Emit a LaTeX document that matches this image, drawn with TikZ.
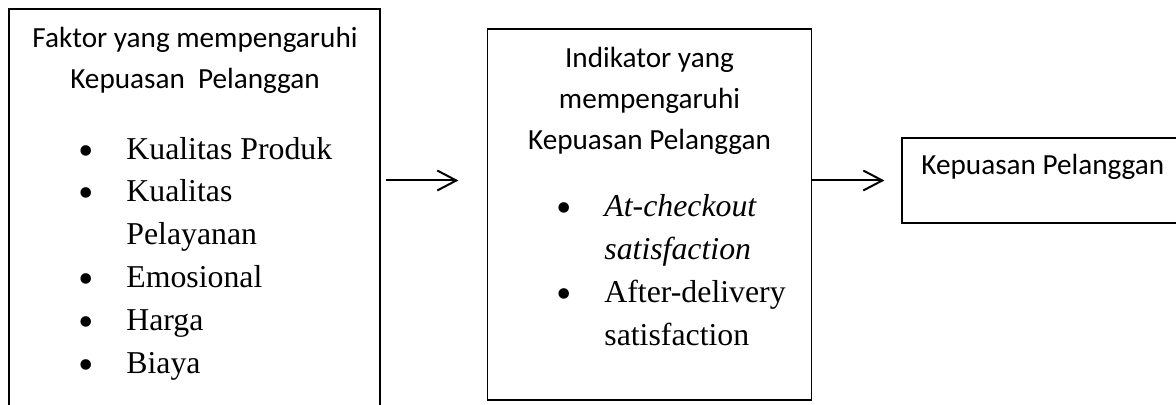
\documentclass[tikz,border=0pt]{standalone}
\usepackage{fontspec}
\setmainfont{Liberation Serif}
\newfontfamily\calibri{Carlito}
\usetikzlibrary{arrows.meta,positioning}
\newcommand{\blt}{\makebox[24pt][l]{\raisebox{-3pt}{\fontsize{22}{22}\selectfont\textbullet}}}
\newcommand{\gap}{\hspace*{24pt}}
\tikzset{
	box/.style={draw, line width=0.6pt, inner sep=0pt},
	head/.style={font=\calibri\fontsize{14.6}{20.5}\selectfont, align=center, inner sep=0pt},
	list/.style={font=\fontsize{15.9}{21.4}\selectfont, align=left, inner sep=0pt},
	flow/.style={line width=1pt, -{Straight Barb[length=9.5pt,width=10pt,line width=1pt]}}
}

\begin{document}
\begin{tikzpicture}[x=0.5pt, y=-0.5pt]
		%%%%% START %%%%%
		\useasboundingbox (0, 0) rectangle (1176, 405);
		\clip (0, 0) rectangle (1176, 405);
		
		\node[box, minimum width=185.5pt, minimum height=210.5pt] (factor) at (194.5, 219.5) {};
		\node[head, anchor=base] (factortitle) at (195, 89) {Faktor yang mempengaruhi\\Kepuasan\ \ Pelanggan};
		\node[list, anchor=base west] (factorlist) at (78, 373) {\blt Kualitas Produk\\\blt Kualitas\\\gap Pelayanan\\\blt Emosional\\\blt Harga\\\blt Biaya};
		
		\node[box, minimum width=162pt, minimum height=185.5pt] (indicator) at (649.5, 214.5) {};
		\node[head, anchor=base] (indicatortitle) at (649.5, 149.5) {Indikator yang\\mempengaruhi\\Kepuasan Pelanggan};
		\node[list, anchor=base west] (indicatorlist) at (556, 345) {\blt\textit{At-checkout}\\\gap\textit{satisfaction}\\\blt After-delivery\\\gap satisfaction};
		
		\node[box, minimum width=149pt, minimum height=42.5pt] (result) at (1051, 180.5) {};
		\node[head, anchor=base west] (resulttitle) at (921, 175) {Kepuasan Pelanggan};
		
		\draw[flow, shorten <=2.5pt, shorten >=14.25pt] (factor.east |- result.west) -- (indicator.west |- result.west);
		\draw[flow, shorten >=8.5pt] (indicator.east |- result.west) -- (result.west);
		%%%%% END %%%%%
	\end{tikzpicture}
\end{document}
